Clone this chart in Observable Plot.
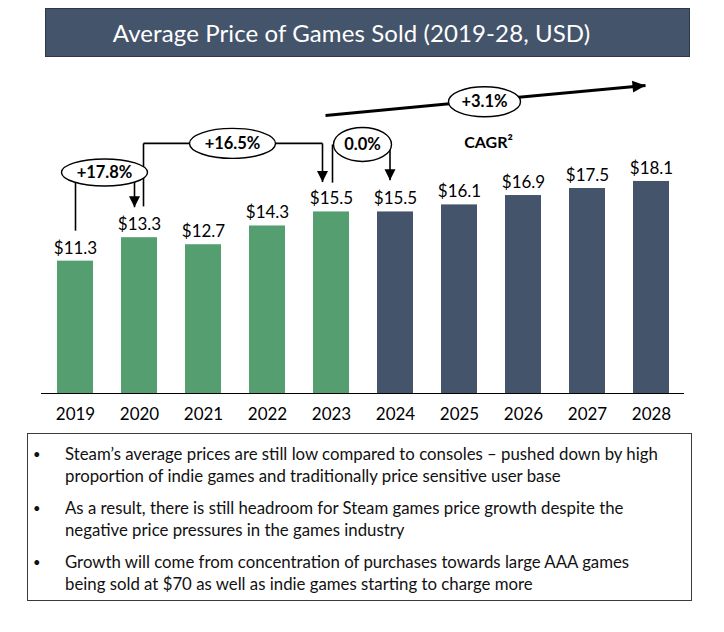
<!DOCTYPE html>
<html>
<head>
<meta charset="utf-8">
<script src="https://cdn.jsdelivr.net/npm/d3@7"></script>
<script src="https://cdn.jsdelivr.net/npm/@observablehq/plot@0.6"></script>
<style>
  body { margin: 0; background: #fff; font-family: Lato, sans-serif; }
  #page { position: relative; width: 724px; height: 632px; overflow: hidden; }
  #title {
    position: absolute; left: 45px; top: 8px; width: 645px; height: 49px; box-sizing: border-box;
    background: #44546A; border: 1px solid #2e3849; color: #fff; font-size: 24px; padding-right: 32px;
    display: flex; align-items: center; justify-content: center; letter-spacing: 0.1px;
  }
  #chart { position: absolute; left: 0; top: 62px; }
  #notes {
    position: absolute; left: 27px; top: 433px; width: 665px; height: 168px; box-sizing: border-box;
    border: 1px solid #3a3a3a; padding: 9px 0 0 0; margin: 0; list-style: none;
    font-size: 16.8px; line-height: 22px; color: #111;
  }
  #notes li { position: relative; padding-left: 37px; margin-bottom: 10px; white-space: nowrap; }
  #notes li::before { content: "•"; position: absolute; left: 5px; top: 0; font-size: 13px; }
</style>
</head>
<body>
<div id="page">
  <div id="title"></div>
  <div id="chart"></div>
  <ul id="notes"></ul>
</div>
<script>
// ---- Data ----
const titleText = "Average Price of Games Sold (2019-28, USD)";
const years = ["2019","2020","2021","2022","2023","2024","2025","2026","2027","2028"];
const prices = [11.3, 13.3, 12.7, 14.3, 15.5, 15.5, 16.1, 16.9, 17.5, 18.1];
const firstForecastYear = "2024";
const growthLabels = ["+17.8%", "+16.5%", "0.0%", "+3.1%"];
const cagrLabel = "CAGR²";
const bullets = [
  ["Steam’s average prices are still low compared to consoles – pushed down by high", "proportion of indie games and traditionally price sensitive user base"],
  ["As a result, there is still headroom for Steam games price growth despite the", "negative price pressures in the games industry"],
  ["Growth will come from concentration of purchases towards large AAA games", "being sold at $70 as well as indie games starting to charge more"]
];

const GREEN = "#549E6F";
const SLATE = "#44546A";

document.getElementById("title").textContent = titleText;
const ul = document.getElementById("notes");
bullets.forEach(lines => {
  const li = document.createElement("li");
  lines.forEach((t, i) => { if (i) li.appendChild(document.createElement("br")); li.appendChild(document.createTextNode(t)); });
  ul.appendChild(li);
});

const data = years.map((year, i) => ({year, value: prices[i], forecast: year >= firstForecastYear}));

// ---- Symbols ----
function ellipseSymbol(rx, ry) {
  const k = 0.5523;
  return {draw(c) {
    c.moveTo(rx, 0);
    c.bezierCurveTo(rx, ry * k, rx * k, ry, 0, ry);
    c.bezierCurveTo(-rx * k, ry, -rx, ry * k, -rx, 0);
    c.bezierCurveTo(-rx, -ry * k, -rx * k, -ry, 0, -ry);
    c.bezierCurveTo(rx * k, -ry, rx, -ry * k, rx, 0);
    c.closePath();
  }};
}
function headSymbol(angleDeg, len, half) {
  const a = angleDeg * Math.PI / 180, ca = Math.cos(a), sa = Math.sin(a);
  const pt = (x, y) => [x * ca - y * sa, x * sa + y * ca];
  return {draw(c) {
    const p1 = pt(-len, -half), p2 = pt(-len, half);
    c.moveTo(0, 0); c.lineTo(p1[0], p1[1]); c.lineTo(p2[0], p2[1]); c.closePath();
  }};
}
const headDown = headSymbol(90, 11, 5.5);

// ---- Annotation geometry (category + pixel nudge, value units) ----
const segments = [
  {x1: "2019", x2: "2019", y1: 13.9, y2: 18.9, dx: 0},
  {x1: "2020", x2: "2020", y1: 18.9, y2: 15.9, dx: -5},
  {x1: "2020", x2: "2020", y1: 15.97, y2: 21.35, dx: 4},
  {x1: "2020", x2: "2021", y1: 21.35, y2: 21.35, dx: 4},
  {x1: "2022", x2: "2023", y1: 21.35, y2: 21.35, dx: -9},
  {x1: "2023", x2: "2023", y1: 21.35, y2: 18.05, dx: -9},
  {x1: "2023", x2: "2023", y1: 18.0, y2: 21.26, dx: 1},
  {x1: "2024", x2: "2024", y1: 21.26, y2: 18.2, dx: -5.5}
];
const heads = [
  {x: "2020", y: 15.9, dx: -5},
  {x: "2023", y: 18.05, dx: -9},
  {x: "2024", y: 18.2, dx: -5.5}
];
const bubbles = [
  {x: "2019", y: 18.87, dx: 29, rx: 43, ry: 13.5},
  {x: "2021", y: 21.35, dx: 29, rx: 43, ry: 15},
  {x: "2023", y: 21.26, dx: 31, rx: 29, ry: 17},
  {x: "2025", y: 24.9, dx: 25, rx: 36, ry: 15}
];
const cagrLine = {x1: "2023", x2: "2028", y1: 23.74, y2: 26.3, dx: -6};

const marks = [
  Plot.barY(data, {x: "year", y: "value", fill: "forecast"}),
  Plot.ruleY([0], {stroke: "#000", strokeWidth: 1.2}),
  Plot.text(data, {x: "year", y: "value", text: d => "$" + d.value.toFixed(1), dy: -13, fontSize: 17, fill: "#000"})
];
segments.forEach(s => marks.push(Plot.link([s], {x1: "x1", x2: "x2", y1: "y1", y2: "y2", dx: s.dx, stroke: "#000", strokeWidth: 1.6})));
heads.forEach(h => marks.push(Plot.dot([h], {x: "x", y: "y", dx: h.dx, symbol: headDown, fill: "#000"})));
marks.push(Plot.link([cagrLine], {x1: "x1", x2: "x2", y1: "y1", y2: "y2", dx: cagrLine.dx, stroke: "#000", strokeWidth: 3}));
marks.push(Plot.dot([cagrLine], {x: "x2", y: "y2", dx: cagrLine.dx, symbol: headSymbol(-5.3, 13, 6), fill: "#000"}));
bubbles.forEach((b, i) => {
  marks.push(Plot.dot([b], {x: "x", y: "y", dx: b.dx, symbol: ellipseSymbol(b.rx, b.ry), fill: "#fff", stroke: "#000", strokeWidth: 1.4}));
  marks.push(Plot.text([b], {x: "x", y: "y", dx: b.dx, text: () => growthLabels[i], fontSize: 16.5, fontWeight: "bold", fill: "#000"}));
});
marks.push(Plot.text([{x: "2025", y: 21.43}], {x: "x", y: "y", dx: 29, text: () => cagrLabel, fontSize: 16, fontWeight: "bold", fill: "#000"}));

const chart = Plot.plot({
  width: 724,
  height: 370,
  marginTop: 3,
  marginBottom: 39,
  marginLeft: 41,
  marginRight: 40,
  x: {domain: years, paddingInner: 0.44, paddingOuter: 0.22, tickSize: 0, tickPadding: 14, label: null},
  y: {domain: [0, 28], axis: null},
  color: {domain: [false, true], range: [GREEN, SLATE]},
  style: {fontFamily: "Lato, sans-serif", fontSize: "17px", color: "#000", background: "transparent", overflow: "visible"},
  marks
});
document.getElementById("chart").appendChild(chart);
</script>
</body>
</html>
